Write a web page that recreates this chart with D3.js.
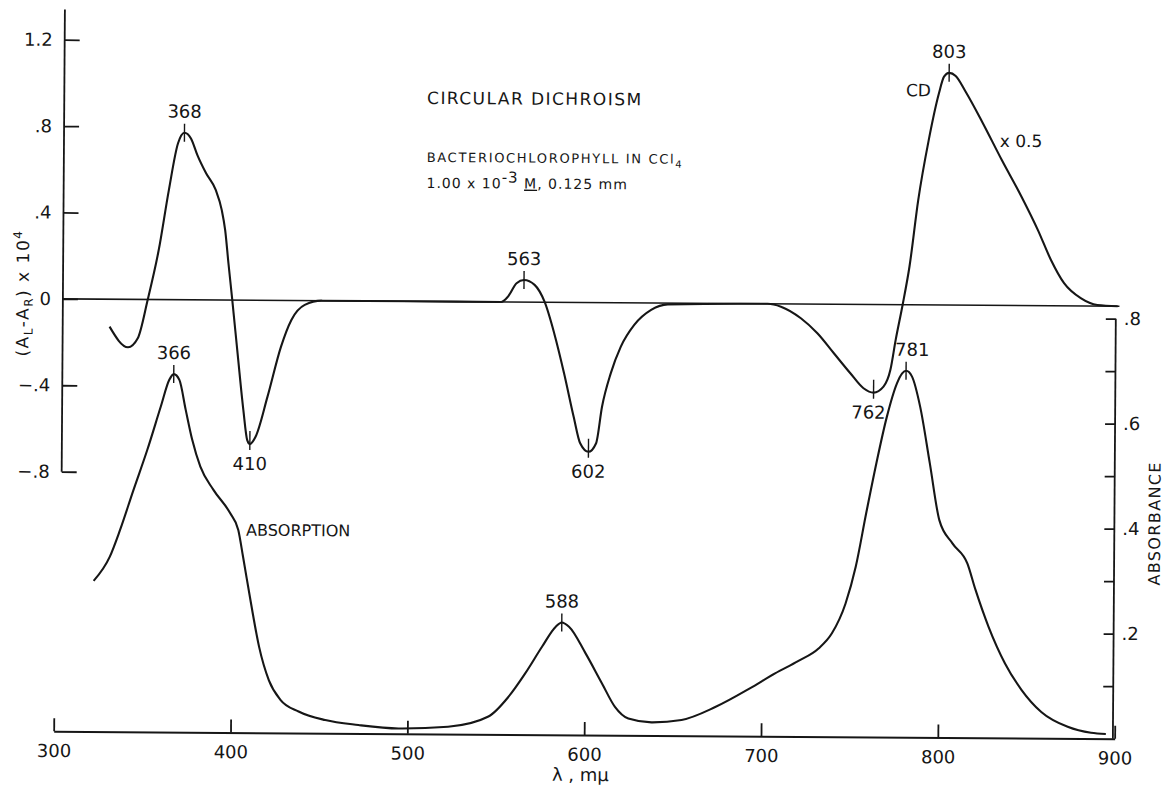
<!DOCTYPE html>
<html>
<head>
<meta charset="utf-8">
<script src="https://cdn.jsdelivr.net/npm/d3@7"></script>
<style>
  body { margin: 0; background: #fff; }
  svg { display: block; }
  text { font-family: "DejaVu Sans", sans-serif; fill: #161616; }
</style>
</head>
<body>
<svg id="chart" width="1166" height="786"></svg>
<script>
// circular dichroism, (AL - AR) x 10^4 as drawn (the 800 band is drawn x 0.5)
var cd_wavelength = [330, 340.5, 346, 351.5, 357.5, 363, 368, 371.6, 375.3, 379, 384, 389.5, 393, 395, 397, 399.3,
  402.7, 406, 408.3, 409.8, 413, 419.6, 427, 432.8, 440.3, 450, 500, 551.4, 555.2, 560, 564.2, 570.2, 576, 581.5,
  587.2, 592.8, 596.6, 601.3, 605.6, 608.8, 613.6, 619.2, 626.7, 636.2, 645.6, 702, 709.6, 720.9, 730.3, 739.7,
  749.1, 756.6, 762.3, 767.9, 771.7, 774.6, 778.4, 782.1, 786.8, 792.5, 798.1, 800.9, 803.8, 807.5, 813.2, 822.6,
  833.9, 845.2, 854.6, 862.1, 869.6, 879.1, 888.5, 900];
var cd_value = [-0.127, -0.222, -0.180, 0, 0.229, 0.507, 0.724, 0.773, 0.747, 0.670, 0.586, 0.509, 0.416, 0.324, 0.169, 0,
  -0.262, -0.509, -0.648, -0.666, -0.632, -0.446, -0.215, -0.090, -0.020, 0, 0, 0, 0.025, 0.087, 0.102, 0.080, 0, -0.144,
  -0.328, -0.529, -0.652, -0.691, -0.651, -0.482, -0.327, -0.203, -0.102, -0.032, -0.006, 0, -0.013, -0.066, -0.135, -0.227,
  -0.319, -0.388, -0.408, -0.380, -0.303, -0.163, 0, 0.176, 0.485, 0.763, 0.980, 1.057, 1.075, 1.061, 0.988, 0.850,
  0.673, 0.504, 0.350, 0.212, 0.105, 0.036, 0.005, 0];

// absorption spectrum, absorbance
var abs_wavelength = [322, 331, 336.7, 344.2, 351.8, 359.3, 364, 366.5, 369.7, 373.4, 377.2, 381.9, 389.4, 398.9, 403.6,
  406.4, 411.1, 415.8, 421.5, 428.1, 438.4, 453.5, 472.3, 495, 523, 545.8, 557.1, 566.5, 575.9, 583.5, 586.9, 591,
  600.4, 609.8, 617.3, 624.9, 638, 655, 674, 693.5, 707.7, 720.9, 732.2, 739.7, 747.3, 752.9, 758.6, 764.2, 769.9,
  775.5, 778.4, 780.6, 784, 788.7, 794.4, 800, 807.5, 816, 820.7, 828.2, 837.7, 847.1, 858.4, 873.4, 886.6, 895];
var abs_value = [0.287, 0.333, 0.384, 0.461, 0.537, 0.620, 0.671, 0.682, 0.671, 0.614, 0.557, 0.506, 0.462, 0.418, 0.386,
  0.335, 0.246, 0.164, 0.100, 0.063, 0.041, 0.025, 0.016, 0.010, 0.014, 0.034, 0.072, 0.117, 0.168, 0.206, 0.214, 0.206,
  0.156, 0.099, 0.054, 0.032, 0.025, 0.030, 0.055, 0.091, 0.120, 0.144, 0.168, 0.197, 0.254, 0.324, 0.426, 0.522, 0.610,
  0.674, 0.693, 0.698, 0.687, 0.630, 0.522, 0.414, 0.370, 0.332, 0.282, 0.212, 0.142, 0.092, 0.050, 0.022, 0.011, 0.009];

// marked extrema: label, curve, wavelength on the drawing, value, label above or below
var peak_labels     = ["368", "410", "563", "602", "762", "803", "366", "588", "781"];
var peak_series     = ["cd", "cd", "cd", "cd", "cd", "cd", "abs", "abs", "abs"];
var peak_wavelength = [371.6, 409.8, 564.2, 601.3, 762.3, 803.8, 366.5, 586.9, 780.6];
var peak_value      = [0.773, -0.666, 0.102, -0.691, -0.408, 1.075, 0.682, 0.214, 0.698];
var peak_side       = ["up", "down", "up", "down", "down", "up", "up", "up", "up"];

var x_ticks    = [300, 400, 500, 600, 700, 800, 900];
var cd_ticks   = [-0.8, -0.4, 0, 0.4, 0.8, 1.2];
var abs_ticks  = [0.1, 0.2, 0.3, 0.4, 0.5, 0.6, 0.7, 0.8];
var abs_labels = [0.2, 0.4, 0.6, 0.8];

var svg = d3.select("#chart");
// the scanned page sits a little crooked
var chart = svg.append("g").attr("transform", "rotate(0.4 583 400)");

var x      = d3.scaleLinear().domain([300, 900]).range([56, 1117]);
var y_cd   = d3.scaleLinear().domain([0, 1.2]).range([302.5, 43.3]);
var y_abs  = d3.scaleLinear().domain([0, 0.8]).range([735, 315]);

var ink = "#161616";

// strip the leading zero like the original lettering: .8, -.4
var fmt = function (d) {
  if (d === 0) return "0";
  return d3.format(".1f")(d).replace("0.", ".");
};

// left CD axis
var cd_axis_x = x(303.5);
var left = chart.append("g").attr("transform", "translate(" + cd_axis_x + ",0)");
left.call(d3.axisLeft(y_cd).tickValues(cd_ticks).tickSize(-15).tickSizeOuter(0).tickPadding(12).tickFormat(fmt));
left.select(".domain").remove();
left.append("line")
    .attr("y1", y_cd(-0.8)).attr("y2", y_cd(1.34))
    .attr("stroke", ink).attr("stroke-width", 1.8);

// right absorbance axis
var right = chart.append("g").attr("transform", "translate(" + x(899) + ",0)");
right.call(d3.axisRight(y_abs).tickValues(abs_ticks).tickSize(-10).tickSizeOuter(0).tickPadding(8)
  .tickFormat(function (d) { return abs_labels.indexOf(d) >= 0 ? fmt(d) : ""; }));
right.select(".domain").remove();
right.append("line")
     .attr("y1", y_abs(0)).attr("y2", y_abs(0.8))
     .attr("stroke", ink).attr("stroke-width", 1.8);

// bottom wavelength axis
var bottom = chart.append("g").attr("transform", "translate(0," + y_abs(0) + ")");
bottom.call(d3.axisBottom(x).tickValues(x_ticks).tickSize(-13).tickSizeOuter(0).tickPadding(13).tickFormat(d3.format("d")));

chart.selectAll(".tick line").attr("stroke", ink).attr("stroke-width", 1.8);
chart.selectAll(".domain").attr("stroke", ink).attr("stroke-width", 2);
chart.selectAll(".tick text").style("font-size", "18px").attr("fill", ink);

// CD zero line
chart.append("line")
     .attr("x1", cd_axis_x).attr("x2", x(901))
     .attr("y1", y_cd(0)).attr("y2", y_cd(0))
     .attr("stroke", ink).attr("stroke-width", 1.6);

var cd_data  = cd_wavelength.map(function (w, i) { return [w, cd_value[i]]; });
var abs_data = abs_wavelength.map(function (w, i) { return [w, abs_value[i]]; });

var cd_line = d3.line()
  .x(function (d) { return x(d[0]); })
  .y(function (d) { return y_cd(d[1]); })
  .curve(d3.curveMonotoneX);

var abs_line = d3.line()
  .x(function (d) { return x(d[0]); })
  .y(function (d) { return y_abs(d[1]); })
  .curve(d3.curveMonotoneX);

chart.append("path").datum(cd_data).attr("d", cd_line)
     .attr("fill", "none").attr("stroke", ink).attr("stroke-width", 2.1).attr("stroke-linejoin", "round");
chart.append("path").datum(abs_data).attr("d", abs_line)
     .attr("fill", "none").attr("stroke", ink).attr("stroke-width", 2.1).attr("stroke-linejoin", "round");

// peak markers and wavelength labels
peak_labels.forEach(function (label, i) {
  var px = x(peak_wavelength[i]);
  var py = peak_series[i] === "cd" ? y_cd(peak_value[i]) : y_abs(peak_value[i]);
  var up = peak_side[i] === "up";

  chart.append("line")
       .attr("x1", px).attr("x2", px)
       .attr("y1", up ? py - 9 : py - 13).attr("y2", up ? py + 9 : py + 6)
       .attr("stroke", ink).attr("stroke-width", 1.4);

  var dx = label === "762" ? -5 : (label === "781" ? 6 : 0);
  chart.append("text")
       .attr("x", px + dx)
       .attr("y", up ? py - 15 : py + 26)
       .attr("text-anchor", "middle")
       .style("font-size", "18px")
       .text(label);
});

// titles and notes
chart.append("text").attr("x", 425).attr("y", 105)
     .attr("textLength", 214).attr("lengthAdjust", "spacing")
     .style("font-size", "17px").text("CIRCULAR  DICHROISM");

chart.append("text").attr("x", 425).attr("y", 163)
     .attr("textLength", 255).attr("lengthAdjust", "spacing")
     .style("font-size", "13px")
     .html('BACTERIOCHLOROPHYLL  IN  CCl<tspan dy="4" font-size="10px">4</tspan>');

var conc = chart.append("text").attr("x", 425).attr("y", 189)
  .style("font-size", "14px").style("letter-spacing", "1px");
conc.append("tspan").text("1.00 x 10");
conc.append("tspan").attr("dy", -6).style("font-size", "15px").text("-3");
conc.append("tspan").attr("dy", 6).text(" ");
conc.append("tspan").attr("text-decoration", "underline").text("M");
conc.append("tspan").text(",  0.125 mm");

chart.append("text").attr("x", x(786.5)).attr("y", 94)
     .attr("text-anchor", "middle").style("font-size", "17px").text("CD");
chart.append("text").attr("x", 998).attr("y", 144)
     .style("font-size", "17px").text("x 0.5");

chart.append("text").attr("x", 247).attr("y", 538)
     .style("font-size", "16px").text("ABSORPTION");

// axis titles
var ylab = chart.append("text")
  .attr("transform", "translate(28,297) rotate(-90)")
  .attr("text-anchor", "middle")
  .style("font-size", "17px").style("letter-spacing", "1.5px");
ylab.append("tspan").text("(A");
ylab.append("tspan").attr("dy", 4).style("font-size", "12px").text("L");
ylab.append("tspan").attr("dy", -4).text("-A");
ylab.append("tspan").attr("dy", 4).style("font-size", "12px").text("R");
ylab.append("tspan").attr("dy", -4).text(") x 10");
ylab.append("tspan").attr("dy", -7).style("font-size", "12px").text("4");

chart.append("text")
     .attr("transform", "translate(1161,520) rotate(-90)")
     .attr("text-anchor", "middle")
     .attr("textLength", 123).attr("lengthAdjust", "spacing")
     .style("font-size", "16px").text("ABSORBANCE");

chart.append("text").attr("x", 583).attr("y", 781)
     .attr("text-anchor", "middle").style("font-size", "18px").text("λ , mμ");
</script>
</body>
</html>
